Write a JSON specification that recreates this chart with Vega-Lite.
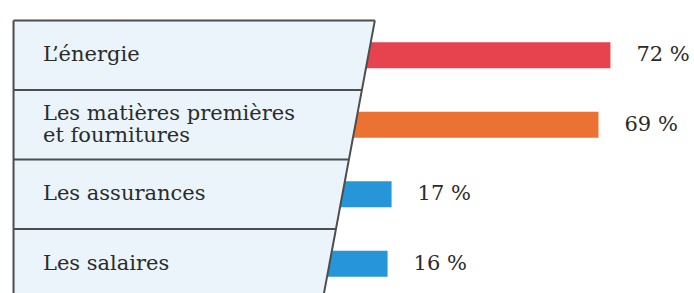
{
  "$schema": "https://vega.github.io/schema/vega-lite/v6.json",
  "width": 694,
  "height": 293,
  "autosize": {"type": "fit", "contains": "padding"},
  "padding": 0,
  "background": "#ffffff",
  "config": {"view": {"stroke": null}},
  "datasets": {
    "rows": [
      {"label": "L\u2019énergie", "cat": "energie", "rank": 1, "value": 72, "txt": "72 %"},
      {"label": "Les matières premières\net fournitures", "cat": "matieres", "rank": 2, "value": 69, "txt": "69 %"},
      {"label": "Les assurances", "cat": "assurances", "rank": 3, "value": 17, "txt": "17 %"},
      {"label": "Les salaires", "cat": "salaires", "rank": 4, "value": 16, "txt": "16 %"}
    ],
    "frame": [
      {"r": 0.5, "xl": -78, "xr": 12.8},
      {"r": 4.5, "xl": -78, "xr": -0.24}
    ],
    "lines": [
      {"x1": -78, "x2": 12.8, "y1": 0.5, "y2": 0.5},
      {"x1": -78, "x2": 9.54, "y1": 1.5, "y2": 1.5},
      {"x1": -78, "x2": 6.28, "y1": 2.5, "y2": 2.5},
      {"x1": -78, "x2": 3.02, "y1": 3.5, "y2": 3.5},
      {"x1": -78, "x2": -78, "y1": 0.5, "y2": 4.5},
      {"x1": 12.8, "x2": -0.24, "y1": 0.5, "y2": 4.5}
    ]
  },
  "encoding": {},
  "layer": [
    {
      "data": {"name": "rows"},
      "mark": {"type": "bar", "height": 26, "orient": "horizontal", "clip": true},
      "encoding": {
        "x": {"field": "value", "type": "quantitative", "scale": {"domain": [-81.4, 93.0], "nice": false, "zero": false}, "axis": null},
        "x2": {"datum": 0},
        "y": {"field": "rank", "type": "quantitative", "scale": {"domain": [0.278, 4.347], "nice": false, "zero": false, "reverse": true}, "axis": null},
        "color": {"field": "cat", "type": "nominal", "legend": null,
          "scale": {"domain": ["energie", "matieres", "assurances", "salaires"], "range": ["#E6434F", "#EB7233", "#2696D8", "#2696D8"]}}
      }
    },
    {
      "data": {"name": "frame"},
      "mark": {"type": "area", "orient": "horizontal", "color": "#EAF4FA", "opacity": 1, "clip": true},
      "encoding": {
        "y": {"field": "r", "type": "quantitative"},
        "x": {"field": "xl", "type": "quantitative"},
        "x2": {"field": "xr"}
      }
    },
    {
      "data": {"name": "lines"},
      "mark": {"type": "rule", "color": "#4d4d4d", "strokeWidth": 2, "clip": true},
      "encoding": {
        "x": {"field": "x1", "type": "quantitative"},
        "x2": {"field": "x2"},
        "y": {"field": "y1", "type": "quantitative"},
        "y2": {"field": "y2"}
      }
    },
    {
      "data": {"name": "rows"},
      "transform": [{"filter": "datum.cat != 'matieres'"}],
      "mark": {"type": "text", "align": "left", "baseline": "middle", "font": "DejaVu Serif", "fontSize": 21, "color": "#2b2b2b"},
      "encoding": {
        "x": {"datum": -70.6, "type": "quantitative"},
        "y": {"field": "rank", "type": "quantitative"},
        "text": {"field": "label"}
      }
    },
    {
      "data": {"name": "rows"},
      "transform": [{"filter": "datum.cat == 'matieres'"}],
      "mark": {"type": "text", "align": "left", "baseline": "middle", "dy": -11, "font": "DejaVu Serif", "fontSize": 21, "lineBreak": "\n", "lineHeight": 22, "color": "#2b2b2b"},
      "encoding": {
        "x": {"datum": -70.6, "type": "quantitative"},
        "y": {"field": "rank", "type": "quantitative"},
        "text": {"field": "label"}
      }
    },
    {
      "data": {"name": "rows"},
      "mark": {"type": "text", "align": "left", "baseline": "middle", "dx": 26, "font": "DejaVu Serif", "fontSize": 21, "color": "#2b2b2b"},
      "encoding": {
        "x": {"field": "value", "type": "quantitative"},
        "y": {"field": "rank", "type": "quantitative"},
        "text": {"field": "txt"}
      }
    }
  ]
}
